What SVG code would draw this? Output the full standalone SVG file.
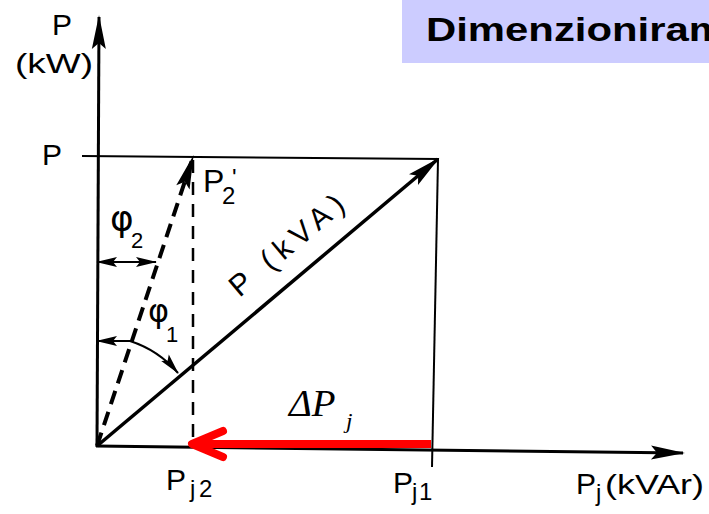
<svg xmlns="http://www.w3.org/2000/svg" width="709" height="514" viewBox="0 0 709 514">
<defs>
<style>
.ax{stroke:#000;stroke-width:3;fill:none}
.thin{stroke:#000;stroke-width:2;fill:none}
.lbl{font-family:"Liberation Sans",Arial,sans-serif;fill:#000}
.phi{font-family:"DejaVu Sans",sans-serif;fill:#000}
.math{font-family:"Liberation Serif","Times New Roman",serif;font-style:italic;fill:#000}
</style>
<marker id="big" viewBox="-36 -10 40 20" refX="0" refY="0" markerWidth="40" markerHeight="20" markerUnits="userSpaceOnUse" orient="auto-start-reverse">
<path d="M2,0 L-32,-7 L-26,0 L-32,7 Z" fill="#000"/>
</marker>
<marker id="small" viewBox="-24 -8 28 16" refX="0" refY="0" markerWidth="28" markerHeight="16" markerUnits="userSpaceOnUse" orient="auto-start-reverse">
<path d="M1,0 L-20,-5 L-16,0 L-20,5 Z" fill="#000"/>
</marker>
</defs>
<rect width="709" height="514" fill="#fff"/>
<g id="title">
<rect x="402" y="0" width="307" height="63" fill="#ccccff"/>
<text x="426" y="41" font-family="Liberation Sans,Arial,sans-serif" font-weight="bold" font-size="34" textLength="300" lengthAdjust="spacingAndGlyphs">Dimenzioniram</text>
</g>
<g id="connectors">
<line id="axis-p" class="ax" x1="97" y1="447" x2="99" y2="17" marker-end="url(#big)"/>
<line id="axis-pj" class="ax" x1="96" y1="446" x2="683" y2="453" marker-end="url(#big)"/>
<line id="top-line" class="thin" x1="82" y1="156" x2="439" y2="159"/>
<line id="right-line" class="thin" x1="438" y1="159" x2="432" y2="467"/>
<line id="diag-kva" stroke="#000" stroke-width="3.5" x1="97" y1="446" x2="438" y2="159" marker-end="url(#big)"/>
<line id="diag-p2" stroke="#000" stroke-width="4" stroke-dasharray="14 8" x1="97" y1="446" x2="193" y2="157" marker-end="url(#big)"/>
<line id="vert-pj2" stroke="#000" stroke-width="2.5" stroke-dasharray="13 9" x1="193" y1="160" x2="193" y2="446"/>
<line id="phi2-arrow" class="thin" x1="97" y1="262" x2="156" y2="262" marker-start="url(#small)" marker-end="url(#small)"/>
<path id="phi1-arrow" class="thin" d="M97,341 L130,341 A106,106 0 0,1 178,373" marker-start="url(#small)" marker-end="url(#small)"/>
<g id="delta-arrow" stroke="#ff0000" stroke-width="8" fill="none" stroke-linecap="round" stroke-linejoin="round">
<line x1="431" y1="444" x2="196" y2="444" stroke-linecap="butt"/>
<polyline points="223,431 192,444 223,457"/>
</g>
</g>
<g id="labels">
<text class="lbl" x="52" y="35" font-size="30">P</text>
<text class="lbl" x="15" y="73" font-size="28" textLength="78" lengthAdjust="spacingAndGlyphs">(kW)</text>
<text class="lbl" x="42" y="165" font-size="30">P</text>
<text class="lbl" x="203" y="192" font-size="32">P<tspan x="222" y="204" font-size="24">2</tspan><tspan x="232" y="186" font-size="24">'</tspan></text>
<text class="phi" x="110" y="231" font-size="36">φ<tspan class="lbl" x="131" y="248" font-size="22">2</tspan></text>
<text class="phi" x="148" y="322" font-size="32">φ<tspan class="lbl" x="166" y="342" font-size="22">1</tspan></text>
<text class="lbl" font-size="30" transform="translate(293,253) rotate(-40.1)" text-anchor="middle" textLength="140" lengthAdjust="spacing">P (kVA)</text>
<text class="math" x="289" y="416" font-size="37" textLength="53" lengthAdjust="spacingAndGlyphs">ΔP<tspan x="346" y="428" font-size="22">j</tspan></text>
<text class="lbl" x="166" y="490" font-size="30">P<tspan x="190" y="497" font-size="24">j</tspan><tspan x="199" y="497" font-size="24">2</tspan></text>
<text class="lbl" x="393" y="493" font-size="30">P<tspan x="412" y="500" font-size="24">j</tspan><tspan x="419" y="500" font-size="24">1</tspan></text>
<text class="lbl" x="576" y="494" font-size="30">P<tspan x="596" y="501" font-size="24">j</tspan></text>
<text class="lbl" x="605" y="494" font-size="28" textLength="99" lengthAdjust="spacingAndGlyphs">(kVAr)</text>
</g>
</svg>
